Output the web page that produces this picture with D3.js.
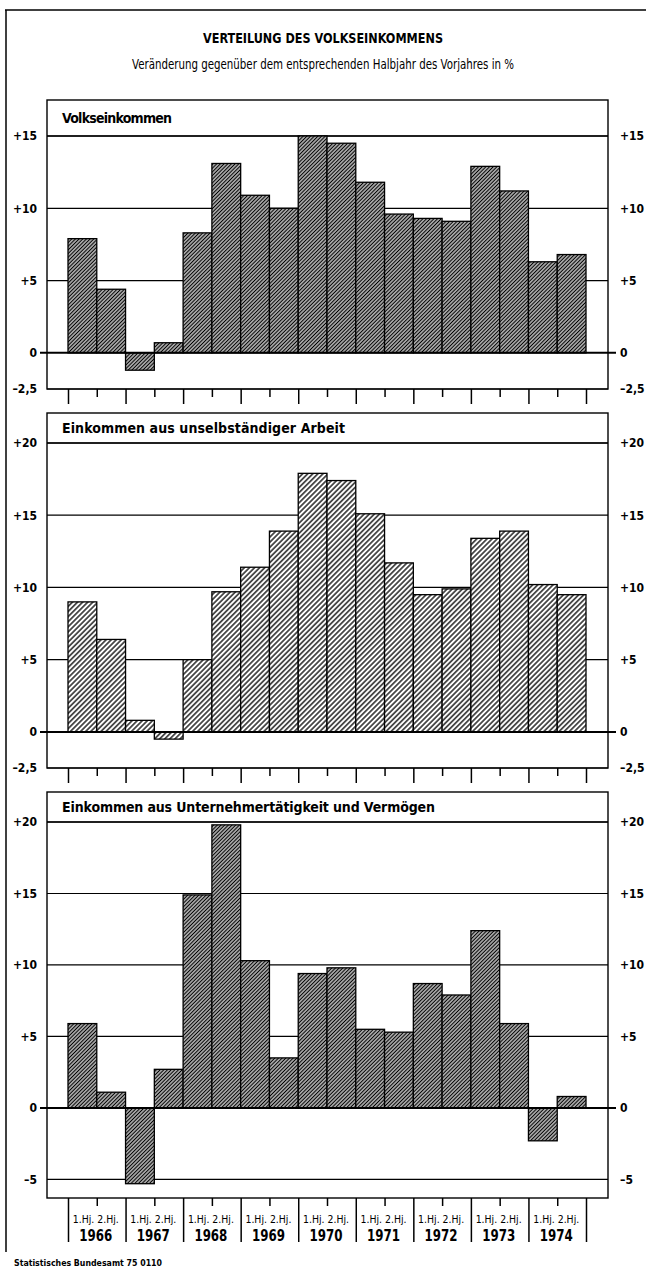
<!DOCTYPE html>
<html><head><meta charset="utf-8">
<script src="https://cdn.jsdelivr.net/npm/d3@7"></script>
<style>body{margin:0;background:#fff}svg{display:block}</style>
</head><body>
<svg id="chart" width="646" height="1268"></svg>
<script>
// ---------- data ----------
const years = ["1966","1967","1968","1969","1970","1971","1972","1973","1974"];
const halves = ["1.Hj.","2.Hj."];
const volkseinkommen = [7.9,4.4,-1.2,0.7,8.3,13.1,10.9,10.0,15.0,14.5,11.8,9.6,9.3,9.1,12.9,11.2,6.3,6.8];
const unselbstaendig = [9.0,6.4,0.8,-0.5,5.0,9.7,11.4,13.9,17.9,17.4,15.1,11.7,9.5,9.9,13.4,13.9,10.2,9.5];
const unternehmer = [5.9,1.1,-5.3,2.7,14.9,19.8,10.3,3.5,9.4,9.8,5.5,5.3,8.7,7.9,12.4,5.9,-2.3,0.8];
const ticksVolk = [-2.5,0,5,10,15];
const ticksUnselb = [-2.5,0,5,10,15,20];
const ticksUntern = [-5,0,5,10,15,20];
const panelTitles = ["Volkseinkommen","Einkommen aus unselbständiger Arbeit","Einkommen aus Unternehmertätigkeit und Vermögen"];
const mainTitle = "VERTEILUNG DES VOLKSEINKOMMENS";
const subTitle = "Veränderung gegenüber dem entsprechenden Halbjahr des Vorjahres in %";
const footer = "Statistisches Bundesamt 75 0110";

// ---------- layout ----------
const FONT = "'Liberation Sans Narrow','DejaVu Sans Condensed','Roboto Condensed','Liberation Sans',sans-serif";
const svg = d3.select("#chart");
const boxL = 47, boxR = 608, barL = 68, barR = 586;
const periods = d3.range(years.length * halves.length);
const xBand = d3.scaleBand().domain(periods).range([barL, barR]).padding(0);
const xEdge = d3.scaleLinear().domain([0, periods.length]).range([barL, barR]);

const defs = svg.append("defs");
function hatch(id, gap, sw) {
  const p = defs.append("pattern").attr("id", id).attr("patternUnits", "userSpaceOnUse")
    .attr("width", gap).attr("height", 10).attr("patternTransform", "rotate(45)");
  p.append("rect").attr("width", gap).attr("height", 10).attr("fill", "#fff");
  p.append("line").attr("x1", gap/2).attr("x2", gap/2).attr("y1", 0).attr("y2", 10)
    .attr("stroke", "#000").attr("stroke-width", sw);
}
hatch("hDark", 2.6, 1.5);
hatch("hLight", 3.6, 1.3);

// frame
svg.append("line").attr("x1", 5).attr("x2", 646).attr("y1", 10).attr("y2", 10).attr("stroke", "#000").attr("stroke-width", 1.5);
svg.append("line").attr("x1", 6).attr("x2", 6).attr("y1", 10).attr("y2", 1252).attr("stroke", "#000").attr("stroke-width", 1.5);

svg.append("text").text(mainTitle).attr("x", 323).attr("y", 43).attr("text-anchor", "middle")
  .attr("font-family", FONT).attr("font-weight", "bold").attr("font-size", 14)
  .attr("textLength", 240).attr("lengthAdjust", "spacingAndGlyphs");
svg.append("text").text(subTitle).attr("x", 323).attr("y", 69).attr("text-anchor", "middle")
  .attr("font-family", FONT).attr("font-size", 14)
  .attr("textLength", 382).attr("lengthAdjust", "spacingAndGlyphs");

const fmt = v => v === 0 ? "0" : (v > 0 ? "+" + v : "\u2013" + String(Math.abs(v)).replace(".", ","));

const panels = [
  {values: volkseinkommen, ticks: ticksVolk, domain: [-2.5, 15], top: 100, plotTop: 136, bottom: 389, pat: "hDark", title: panelTitles[0], titleW: 110, lastAxis: false},
  {values: unselbstaendig, ticks: ticksUnselb, domain: [-2.5, 20], top: 413, plotTop: 443, bottom: 768, pat: "hLight", title: panelTitles[1], titleW: 283, lastAxis: false},
  {values: unternehmer, ticks: ticksUntern, domain: [-6.3, 20], top: 792, plotTop: 822, bottom: 1198, pat: "hDark", title: panelTitles[2], titleW: 373, lastAxis: true}
];

panels.forEach(p => {
  const y = d3.scaleLinear().domain(p.domain).range([p.bottom, p.plotTop]);
  const g = svg.append("g");
  // gridlines
  g.selectAll("line.grid").data(p.ticks.filter(t => t !== 0)).join("line")
    .attr("x1", boxL).attr("x2", boxR).attr("y1", d => y(d)).attr("y2", d => y(d))
    .attr("stroke", "#000").attr("stroke-width", 1.2);
  // box
  g.append("rect").attr("x", boxL).attr("y", p.top).attr("width", boxR - boxL).attr("height", p.bottom - p.top)
    .attr("fill", "none").attr("stroke", "#000").attr("stroke-width", 1.4);
  g.append("line").attr("x1", boxL).attr("x2", boxR).attr("y1", p.plotTop).attr("y2", p.plotTop)
    .attr("stroke", "#000").attr("stroke-width", 1.3);
  // header
  g.append("text").text(p.title).attr("x", 62).attr("y", p.top + (p.plotTop - p.top) / 2 + 5)
    .attr("font-family", FONT).attr("font-weight", "bold").attr("font-size", 14)
    .attr("textLength", p.titleW).attr("lengthAdjust", "spacing");
  // bars
  g.selectAll("rect.bar").data(p.values).join("rect").attr("class", "bar")
    .attr("x", (d, i) => xBand(i)).attr("width", xBand.bandwidth())
    .attr("y", d => Math.min(y(d), y(0))).attr("height", d => Math.abs(y(d) - y(0)))
    .attr("fill", `url(#${p.pat})`).attr("stroke", "#000").attr("stroke-width", 1.3);
  // zero line
  g.append("line").attr("x1", 40).attr("x2", 616).attr("y1", y(0)).attr("y2", y(0))
    .attr("stroke", "#000").attr("stroke-width", 2);
  // axes labels
  const styleAxis = sel => {
    sel.select(".domain").remove();
    sel.selectAll(".tick line").remove();
    sel.selectAll("text").attr("font-family", FONT).attr("font-weight", "bold").attr("font-size", 12).attr("fill", "#000");
  };
  g.append("g").attr("transform", "translate(40,0)")
    .call(d3.axisLeft(y).tickValues(p.ticks).tickFormat(fmt).tickSize(0).tickPadding(3)).call(styleAxis);
  g.append("g").attr("transform", "translate(617,0)")
    .call(d3.axisRight(y).tickValues(p.ticks).tickFormat(fmt).tickSize(0).tickPadding(3)).call(styleAxis);
  // bottom ticks
  const even = d3.range(0, periods.length + 1, 2), odd = d3.range(1, periods.length, 2);
  const tickStyle = sel => {
    sel.select(".domain").remove();
    sel.selectAll(".tick text").remove();
    sel.selectAll(".tick line").attr("stroke", "#000").attr("stroke-width", 1.5);
  };
  g.append("g").attr("transform", `translate(0,${p.bottom})`)
    .call(d3.axisBottom(xEdge).tickValues(even).tickSize(p.lastAxis ? 44 : 15)).call(tickStyle);
  g.append("g").attr("transform", `translate(0,${p.bottom})`)
    .call(d3.axisBottom(xEdge).tickValues(odd).tickSize(8)).call(tickStyle);
  if (p.lastAxis) {
    g.selectAll("text.hj").data(years).join("text")
      .text(halves.join(" ")).attr("x", (d, i) => xEdge(2 * i + 1) - 1).attr("y", p.bottom + 25)
      .attr("text-anchor", "middle").attr("font-family", FONT).attr("font-size", 11)
      .attr("textLength", 46).attr("lengthAdjust", "spacingAndGlyphs");
    g.selectAll("text.yr").data(years).join("text")
      .text(d => d).attr("x", (d, i) => xEdge(2 * i + 1) - 1).attr("y", p.bottom + 43)
      .attr("text-anchor", "middle").attr("font-family", FONT).attr("font-weight", "bold").attr("font-size", 15)
      .attr("textLength", 33).attr("lengthAdjust", "spacingAndGlyphs");
  }
});

svg.append("text").text(footer).attr("x", 14).attr("y", 1266)
  .attr("font-family", FONT).attr("font-weight", "bold").attr("font-size", 9)
  .attr("textLength", 148).attr("lengthAdjust", "spacingAndGlyphs");
</script>
</body></html>
